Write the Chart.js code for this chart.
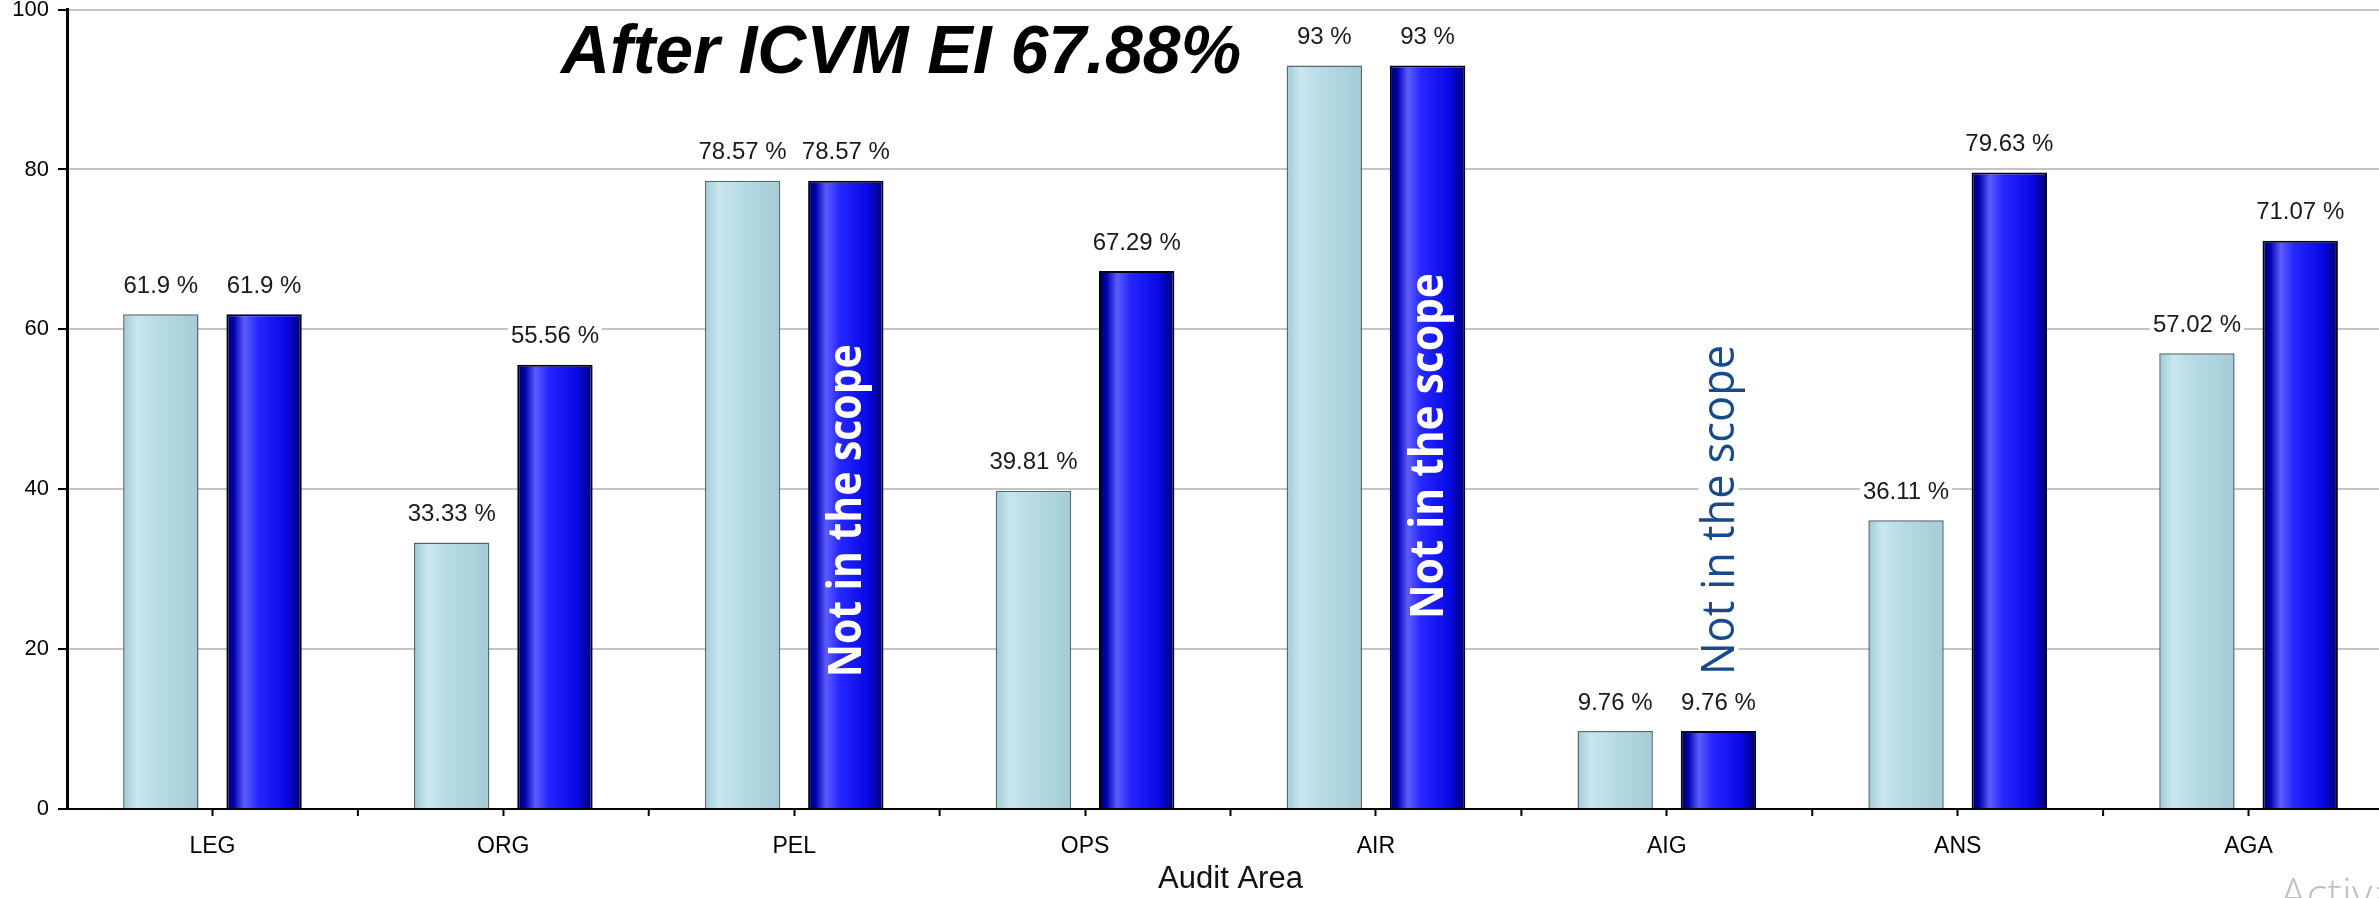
<!DOCTYPE html>
<html>
<head>
<meta charset="utf-8">
<script src="https://cdn.jsdelivr.net/npm/chart.js@4.4.1/dist/chart.umd.min.js"></script>
<style>
  html, body { margin: 0; padding: 0; background: #fff; overflow: hidden; }
  #wrap { width: 2400px; height: 898px; }
</style>
</head>
<body>
<div id="wrap"><canvas id="auditChart" width="2400" height="898"></canvas></div>
<script>
// data
var areas = ["LEG", "ORG", "PEL", "OPS", "AIR", "AIG", "ANS", "AGA"];
var beforeIcvm = [61.9, 33.33, 78.57, 39.81, 93, 9.76, 36.11, 57.02];
var afterIcvm = [61.9, 55.56, 78.57, 67.29, 93, 9.76, 79.63, 71.07];
var yTicks = [0, 20, 40, 60, 80, 100];

// "Not in the scope" notes: category and where the text is centred (axis units)
var noteAreas = ["PEL", "AIR", "AIG"];
var noteMid = [37.3, 45.4, 37.4];
var noteText = "Not in the scope";
var titleText = "After ICVM EI 67.88%";

var FONT = '"Liberation Sans", Arial, sans-serif';

var barLook = [
  { stops: [[0, '#9ecad5'], [0.18, '#c9e6ee'], [0.45, '#b8dce5'], [1, '#a4cbd6']] },
  { stops: [[0, '#000058'], [0.1, '#0000b0'], [0.24, '#5c5cff'], [0.42, '#2626ff'], [0.8, '#0808e4'], [1, '#000070']] }
];
var noteLook = [
  { color: '#ffffff', weight: 'bold', len: 333, bg: false },
  { color: '#ffffff', weight: 'bold', len: 346, bg: false },
  { color: '#174a8c', weight: 'normal', len: 330, bg: true }
];

var gradientBars = {
  id: 'gradientBars',
  beforeDatasetsDraw: function (chart) {
    var ctx = chart.ctx;
    chart.data.datasets.forEach(function (ds, di) {
      var meta = chart.getDatasetMeta(di);
      meta.data.forEach(function (el) {
        var g = ctx.createLinearGradient(el.x - el.width / 2, 0, el.x + el.width / 2, 0);
        barLook[di].stops.forEach(function (s) { g.addColorStop(s[0], s[1]); });
        el.options.backgroundColor = g;
      });
    });
  }
};

var extras = {
  id: 'extras',
  afterDatasetsDraw: function (chart) {
    var ctx = chart.ctx;
    var xs = chart.scales.x, ys = chart.scales.y;
    ctx.save();

    // value labels
    ctx.font = '24px ' + FONT;
    ctx.textAlign = 'center';
    ctx.textBaseline = 'middle';
    chart.data.datasets.forEach(function (ds, di) {
      chart.getDatasetMeta(di).data.forEach(function (el, i) {
        var txt = ds.data[i] + ' %';
        var w = ctx.measureText(txt).width;
        var ty = el.y - 28;
        ctx.fillStyle = '#fff';
        ctx.fillRect(el.x - w / 2 - 3, ty - 13, w + 6, 26);
        ctx.fillStyle = '#1a1a1a';
        ctx.fillText(txt, el.x, ty);
      });
    });

    // not in the scope notes, on the second bar of each category
    var darkMeta = chart.getDatasetMeta(1);
    noteAreas.forEach(function (a, k) {
      var idx = areas.indexOf(a);
      var el = darkMeta.data[idx];
      var cy = ys.getPixelForValue(noteMid[k]);
      var look = noteLook[k];
      ctx.save();
      ctx.translate(el.x, cy);
      ctx.rotate(-Math.PI / 2);
      ctx.font = look.weight + ' 46px "Open Sans", "Noto Sans", sans-serif';
      var w = ctx.measureText(noteText).width;
      var sx = look.len / w;
      if (look.bg) {
        ctx.fillStyle = '#fff';
        ctx.fillRect(-look.len / 2 - 4, -20, look.len + 8, 40);
      }
      ctx.scale(sx, 1);
      ctx.fillStyle = look.color;
      ctx.textAlign = 'center';
      ctx.textBaseline = 'middle';
      ctx.fillText(noteText, 0, 2);
      ctx.restore();
    });

    // small ticks between categories
    ctx.strokeStyle = '#000';
    ctx.lineWidth = 2;
    for (var i = 0; i < areas.length; i++) {
      var bx = (xs.getPixelForValue(i) + xs.getPixelForValue(i + 1)) / 2;
      ctx.beginPath();
      ctx.moveTo(bx, chart.chartArea.bottom);
      ctx.lineTo(bx, chart.chartArea.bottom + 7);
      ctx.stroke();
    }

    // heading inside the plot
    ctx.font = 'italic bold 68px ' + FONT;
    ctx.fillStyle = '#000';
    ctx.textAlign = 'center';
    ctx.textBaseline = 'alphabetic';
    ctx.fillText(titleText, chart.chartArea.left + 834, chart.chartArea.top + 63);

    // leftover windows watermark at the corner
    ctx.font = '300 44px "Open Sans", sans-serif';
    ctx.fillStyle = 'rgba(140,140,140,0.55)';
    ctx.textAlign = 'left';
    ctx.fillText('Activate Windows', 2280, 910);
    ctx.restore();
  }
};

var ctx = document.getElementById('auditChart');
var auditChart = new Chart(ctx, {
  type: 'bar',
  data: {
    labels: areas,
    datasets: [{
      label: 'Before ICVM',
      data: beforeIcvm,
      backgroundColor: function () { return '#b7dde6'; },
      borderColor: '#56676d',
      borderWidth: 1.5,
      categoryPercentage: 0.71,
      barPercentage: 0.73
    }, {
      label: 'After ICVM',
      data: afterIcvm,
      backgroundColor: function () { return '#1515ff'; },
      borderColor: '#000022',
      borderWidth: 2,
      categoryPercentage: 0.71,
      barPercentage: 0.73
    }]
  },
  options: {
    responsive: false,
    animation: false,
    devicePixelRatio: 1,
    layout: { padding: { top: 0, left: 0, right: 6, bottom: 0 } },
    plugins: {
      legend: { display: false },
      tooltip: { enabled: false }
    },
    scales: {
      x: {
        afterFit: function (s) { s.height = 89; },
        grid: { drawOnChartArea: false, offset: false, tickLength: 7, tickColor: '#000', tickWidth: 2 },
        border: { color: '#000', width: 2 },
        ticks: { color: '#000', font: { family: FONT, size: 23 }, padding: 17, maxRotation: 0 },
        title: { display: true, text: 'Audit Area', color: '#111', font: { family: FONT, size: 31 }, padding: { top: 0, bottom: 0 } }
      },
      y: {
        min: 0,
        max: 100,
        afterFit: function (s) { s.width = 67; },
        afterBuildTicks: function (s) { s.ticks = yTicks.map(function (v) { return { value: v }; }); },
        grid: { color: '#c4c4c4', lineWidth: 2, tickColor: '#000', tickLength: 9, tickWidth: 2 },
        border: { color: '#000', width: 3 },
        ticks: { color: '#000', font: { family: FONT, size: 22, lineHeight: 0.05 }, padding: 9 }
      }
    }
  },
  plugins: [gradientBars, extras]
});
</script>
</body>
</html>
